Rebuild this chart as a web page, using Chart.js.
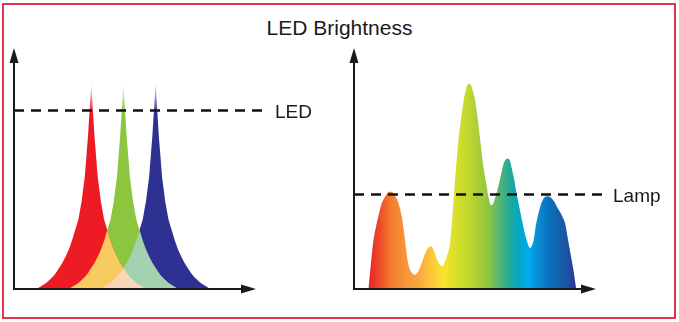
<!DOCTYPE html>
<html>
<head>
<meta charset="utf-8">
<script src="https://cdn.jsdelivr.net/npm/chart.js@4.4.1/dist/chart.umd.min.js"></script>
<style>
    body { margin: 0; background: #fff; }
    #frame {
        position: absolute; left: 2px; top: 3px; width: 674px; height: 316px;
        box-sizing: border-box; border: 2px solid #e2334f;
    }
    #title {
        position: absolute; left: 0; top: 17px; width: 679px; text-align: center;
        font: 21px 'Liberation Sans', Arial, sans-serif; line-height: 21px; color: #1a1a1a;
    }
    #ledChart { position: absolute; left: 0; top: 0; }
    #lampChart { position: absolute; left: 340px; top: 0; }
</style>
</head>
<body>
<div id="frame"></div>
<div id="title">LED Brightness</div>
<canvas id="ledChart" width="340" height="322"></canvas>
<canvas id="lampChart" width="339" height="322"></canvas>

<script>
// wavelength positions (arbitrary units), shared by the three LED curves
const ledX = [7, 8, 9, 10, 11, 12, 13, 14, 15, 16, 17, 18, 19, 20, 21, 22, 23, 24, 25, 26,
    27, 28, 29, 30, 31, 32, 33, 34, 35, 36, 37, 38, 39, 40, 41, 42, 43, 44, 45, 46,
    47, 48, 49, 50, 51, 52, 53, 54, 55, 56, 57, 58, 59, 60, 61];

const redLed = [0, 1.1, 2.2, 3.4, 5.1, 6.7, 9, 11.8, 14.6, 18, 22, 27, 33, 39, 49, 63, 86, 115,
    86, 63, 49, 39, 33, 27, 22, 18, 14.6, 11.8, 9, 6.7, 5.1, 3.4, 2.2, 1.1, 0,
    0, 0, 0, 0, 0, 0, 0, 0, 0, 0, 0, 0, 0, 0, 0, 0, 0, 0, 0, 0];

const greenLed = [0, 0, 0, 0, 0, 0, 0, 0, 0, 0,
    0, 1.1, 2.2, 3.4, 5.1, 6.7, 9, 11.8, 14.6, 18, 22, 27, 33, 39, 49, 63, 86, 115,
    86, 63, 49, 39, 33, 27, 22, 18, 14.6, 11.8, 9, 6.7, 5.1, 3.4, 2.2, 1.1, 0,
    0, 0, 0, 0, 0, 0, 0, 0, 0, 0];

const blueLed = [0, 0, 0, 0, 0, 0, 0, 0, 0, 0, 0, 0, 0, 0, 0, 0, 0, 0, 0, 0,
    0, 1.1, 2.2, 3.4, 5.1, 6.7, 9, 11.8, 14.6, 18, 22, 27, 33, 39, 49, 63, 86, 115,
    86, 63, 49, 39, 33, 27, 22, 18, 14.6, 11.8, 9, 6.7, 5.1, 3.4, 2.2, 1.1, 0];

// broadband lamp spectrum
const spectrumX = [4.5, 5.3, 6.0, 6.9, 7.8, 8.7, 9.7, 10.6, 11.6, 12.6, 13.5, 14.3, 15.0, 15.6,
    16.2, 16.8, 17.4, 18.2, 19.1, 20.0, 20.7, 21.5, 22.3, 23.2, 24.1, 24.9, 25.7, 26.7,
    27.7, 28.8, 30.1, 30.7, 31.3, 32.0, 32.7, 33.5, 34.3, 35.0, 35.8, 36.5, 37.2, 37.9,
    38.7, 39.5, 40.5, 41.6, 42.3, 42.9, 43.5, 44.2, 45.0, 45.8, 47.0, 48.2, 48.8, 49.5,
    50.2, 51.0, 51.9, 52.8, 54.0, 55.2, 56.2, 57.1, 58.0, 58.9, 59.8, 60.8, 61.8, 62.7,
    63.6, 64.6, 65.4, 66.1, 67.0, 68.0, 68.8, 69.6];
const lampSpectrum = [0, 14, 26, 35, 42, 48, 51.5, 54, 54.5, 53, 50, 46, 40, 33,
    24, 16, 11.5, 9, 8, 9.5, 12, 16, 20, 23, 24, 22, 18, 14,
    13, 17, 26, 38, 53, 69, 83, 95, 105, 111, 115, 114.5, 111, 106,
    96, 84, 69, 57, 50, 47, 47.5, 51, 56, 62, 71, 73, 72, 67,
    61, 53, 45, 37, 28, 23, 27, 37, 44, 49, 51.5, 52, 51, 49,
    46, 43, 40, 37, 28, 18, 10, 0];

const ledLevel = 100;
const lampLevel = 53;
const xMax = 78;
const yMax = 135;

const spectrumStops = [
    [0, '#e42328'], [0.058, '#ee4d2a'], [0.111, '#f47c30'], [0.18, '#f7953a'],
    [0.25, '#faa93e'], [0.308, '#fdc93a'], [0.361, '#f7e52e'], [0.423, '#d9df2a'],
    [0.49, '#bcd631'], [0.577, '#8fc63f'], [0.635, '#53b477'], [0.683, '#1ea99a'],
    [0.731, '#00a8cc'], [0.769, '#00aeef'], [0.827, '#0a86cf'], [0.885, '#0b6bb6'],
    [0.952, '#1e56a3'], [1, '#2e3192']
];

Chart.defaults.font.family = "'Liberation Sans', Arial, sans-serif";

const overlap = (a, b) => a.map((v, i) => Math.min(v, b[i]));
const toPoints = (xs, ys) => xs.map((x, i) => ({ x, y: ys[i] }));

// solid colour that fades out toward the tip of each LED spike
function ledFill(color) {
    return (c) => {
        const { ctx, chartArea, scales } = c.chart;
        if (!chartArea) return color;
        const g = ctx.createLinearGradient(0, scales.y.getPixelForValue(118), 0, scales.y.getPixelForValue(98));
        g.addColorStop(0, color + '00');
        g.addColorStop(1, color);
        return g;
    };
}

function spectrumFill(c) {
    const { ctx, chartArea, scales } = c.chart;
    if (!chartArea) return spectrumStops[0][1];
    const x0 = scales.x.getPixelForValue(spectrumX[0]);
    const x1 = scales.x.getPixelForValue(spectrumX[spectrumX.length - 1]);
    const g = ctx.createLinearGradient(x0, 0, x1, 0);
    spectrumStops.forEach(([p, col]) => g.addColorStop(p, col));
    return g;
}

// plain axes with arrow heads, plus the text at the end of the dashed level line
const axisArrows = {
    id: 'axisArrows',
    afterDatasetsDraw(chart, args, opts) {
        const { ctx, chartArea: a, scales } = chart;
        const x0 = a.left;
        const y0 = scales.y.getPixelForValue(0);
        const tipX = a.right - opts.xGap;
        const tipY = a.top;
        const len = 15, half = 4.5;
        ctx.save();
        ctx.strokeStyle = '#1a1a1a';
        ctx.fillStyle = '#1a1a1a';
        ctx.lineWidth = 2;
        ctx.beginPath();
        ctx.moveTo(x0, y0 + 1);
        ctx.lineTo(x0, tipY + len - 1);
        ctx.moveTo(x0 - 1, y0);
        ctx.lineTo(tipX - len + 1, y0);
        ctx.stroke();
        ctx.beginPath();
        ctx.moveTo(x0, tipY);
        ctx.lineTo(x0 + half, tipY + len);
        ctx.lineTo(x0 - half, tipY + len);
        ctx.closePath();
        ctx.moveTo(tipX, y0);
        ctx.lineTo(tipX - len, y0 - half);
        ctx.lineTo(tipX - len, y0 + half);
        ctx.closePath();
        ctx.fill();

        chart.data.datasets.forEach((ds, i) => {
            if (!ds.levelLabel) return;
            const pts = chart.getDatasetMeta(i).data;
            const end = pts[pts.length - 1];
            ctx.font = "19px 'Liberation Sans', Arial, sans-serif";
            ctx.textAlign = 'left';
            ctx.textBaseline = 'alphabetic';
            ctx.fillText(ds.levelLabel, end.x + 10, end.y + 8);
        });
        ctx.restore();
    }
};

function levelLine(label, value) {
    return {
        levelLabel: label,
        data: [{ x: 0, y: value }, { x: xMax, y: value }],
        borderColor: '#111',
        borderWidth: 2.5,
        borderDash: [10, 7],
        pointRadius: 0,
        fill: false,
        order: 0
    };
}

function baseOptions(padRight, xGap) {
    return {
        responsive: false,
        animation: false,
        layout: { padding: { left: 14, right: padRight, top: 48, bottom: 33 } },
        scales: {
            x: { type: 'linear', min: 0, max: xMax, display: false },
            y: { min: 0, max: yMax, display: false }
        },
        elements: { point: { radius: 0 } },
        plugins: {
            legend: { display: false },
            tooltip: { enabled: false },
            axisArrows: { xGap }
        }
    };
}

const area = (data, color, order) => ({
    data: toPoints(ledX, data),
    backgroundColor: color,
    borderWidth: 0,
    tension: 0,
    fill: 'origin',
    order
});

new Chart(document.getElementById('ledChart'), {
    type: 'line',
    data: {
        datasets: [
            levelLine('LED', ledLevel),
            area(overlap(redLed, blueLed), '#f7d6ba', 1),
            area(overlap(redLed, greenLed), '#f7cb60', 2),
            area(overlap(greenLed, blueLed), '#a2d2b0', 3),
            area(redLed, ledFill('#ed1c24'), 4),
            area(greenLed, ledFill('#8cc63f'), 5),
            area(blueLed, ledFill('#2e3192'), 6)
        ]
    },
    options: baseOptions(75, 9),
    plugins: [axisArrows]
});

new Chart(document.getElementById('lampChart'), {
    type: 'line',
    data: {
        datasets: [
            levelLine('Lamp', lampLevel),
            {
                data: toPoints(spectrumX, lampSpectrum),
                backgroundColor: spectrumFill,
                borderWidth: 0,
                cubicInterpolationMode: 'monotone',
                fill: 'origin',
                order: 1
            }
        ]
    },
    options: baseOptions(76, 7),
    plugins: [axisArrows]
});
</script>
</body>
</html>
